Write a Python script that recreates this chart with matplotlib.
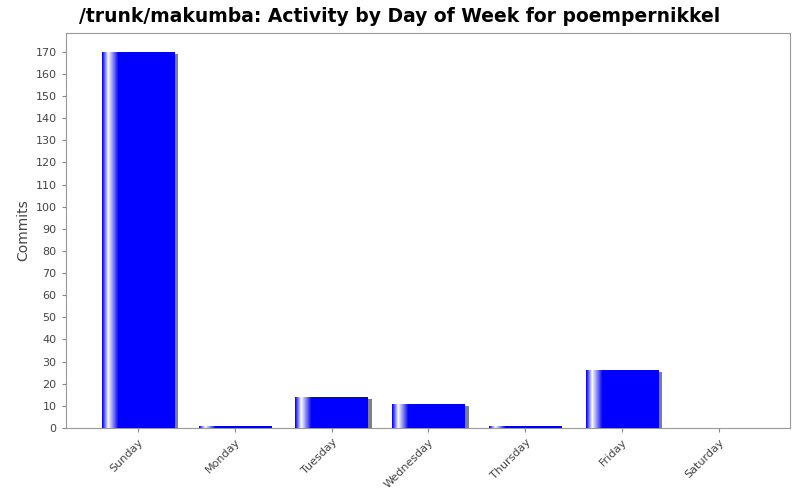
import matplotlib
matplotlib.use("Agg")
import matplotlib.pyplot as plt
import numpy as np
from matplotlib.colors import LinearSegmentedColormap
from matplotlib.transforms import offset_copy

days = ["Sunday", "Monday", "Tuesday", "Wednesday", "Thursday", "Friday", "Saturday"]
commits = [170, 1, 14, 11, 1, 26, 0]

fig = plt.figure(figsize=(8, 5), dpi=100)
ax = fig.add_axes([0.082, 0.144, 0.906, 0.79])
x = np.arange(len(days))
w = 0.75
shadow = ax.bar(x, commits, width=w, color="#808080", zorder=1,
                transform=offset_copy(ax.transData, fig=fig, x=4, y=-2, units="dots"))
bars = ax.bar(x, commits, width=w, color="blue", zorder=2)
cmap = LinearSegmentedColormap.from_list("g", ["#0000ff", "#ffffff", "#0000ff", "#0000ff"])
pos = np.linspace(0, 1, 100)
vals = np.interp(pos, [0, 0.08, 0.22, 1], [0.0, 0.33, 0.66, 1.0])
for b in bars:
    if b.get_height() <= 0:
        continue
    x0, y0 = b.get_x(), b.get_y()
    im = ax.imshow(vals[np.newaxis, :], cmap=cmap, vmin=0, vmax=1, aspect="auto",
                   extent=[x0, x0 + b.get_width(), y0, y0 + b.get_height()], zorder=3)
    im.set_clip_path(b)
ax.set_xlim(-0.75, 6.74)
ax.set_ylim(0, 178.5)
ax.set_yticks(range(0, 171, 10))
ax.set_xticks(x)
ax.set_xticklabels(days, rotation=45, ha="right", rotation_mode="anchor", fontsize=8, color="#444444")
ax.tick_params(axis="y", labelsize=8, labelcolor="#444444", length=3, color="#888888")
ax.tick_params(axis="x", length=3, color="#888888")
for s in ax.spines.values():
    s.set_color("#999999")
    s.set_linewidth(0.8)
ax.set_ylabel("Commits", fontsize=10, color="#444444")
fig.suptitle("/trunk/makumba: Activity by Day of Week for poempernikkel",
             x=0.5, y=0.985, fontsize=13.5, fontweight="bold")
fig.savefig("out.png", dpi=100)
